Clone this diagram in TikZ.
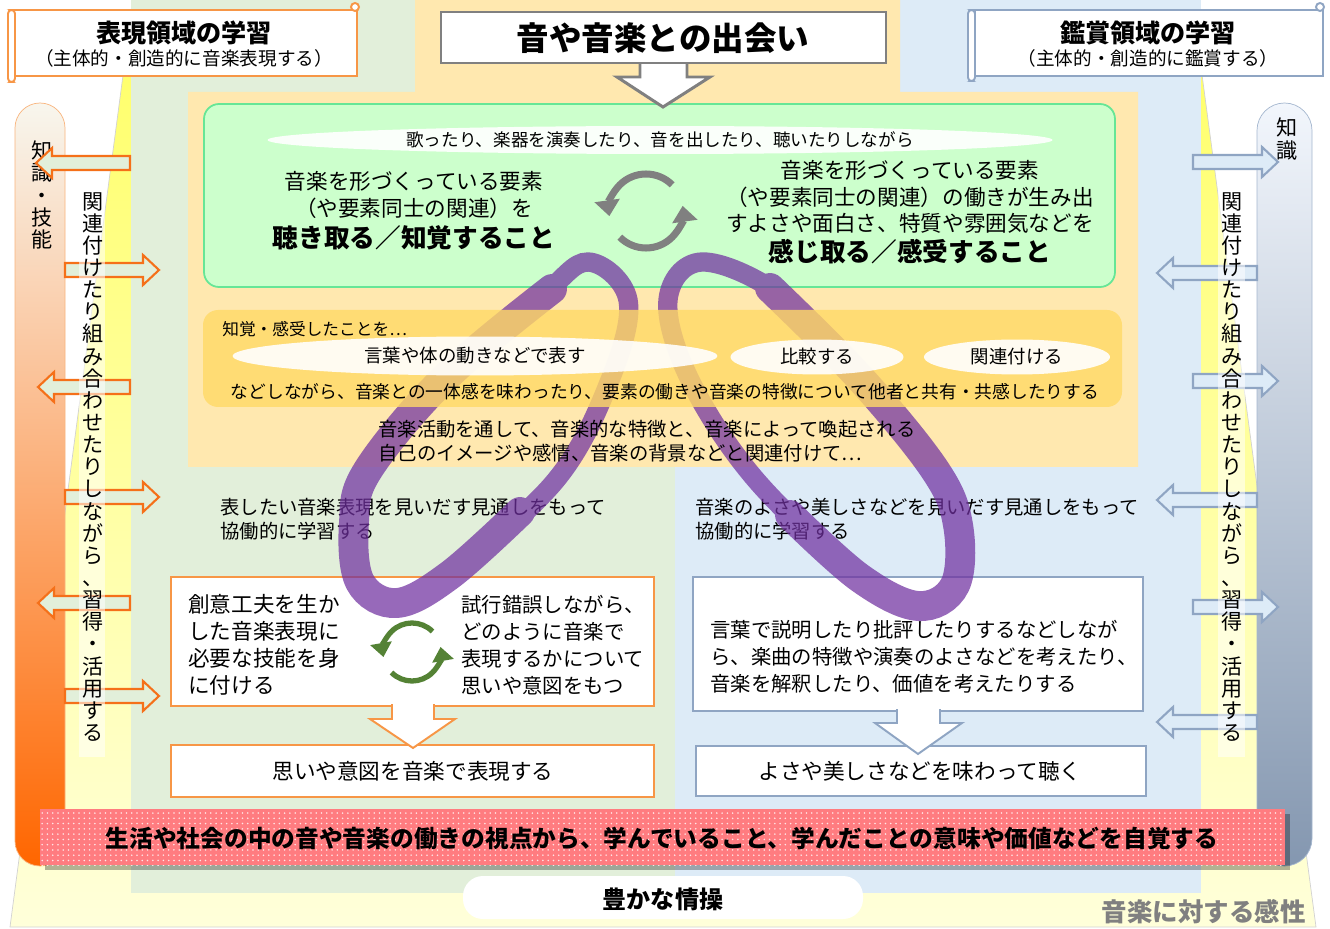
\documentclass[tikz,border=0pt]{standalone}
\usepackage{fontspec}
\setmainfont{Noto Sans CJK JP}
\usetikzlibrary{arrows.meta, shapes.geometric, patterns, calc}
\definecolor{brightyel}{RGB}{255,255,100}
\definecolor{midyel}{RGB}{255,255,200}
\definecolor{paleyel}{RGB}{255,255,218}
\definecolor{hyogen}{RGB}{226,239,218}
\definecolor{kansho}{RGB}{221,235,247}
\definecolor{deai}{RGB}{255,232,175}
\definecolor{chikaku}{RGB}{255,217,102}
\definecolor{kanju}{RGB}{204,255,204}
\definecolor{kanjuline}{RGB}{102,230,150}
\definecolor{orgline}{RGB}{247,150,70}
\definecolor{orgarr}{RGB}{245,112,25}
\definecolor{blueline}{RGB}{143,165,195}
\definecolor{ribpurple}{RGB}{112,48,160}
\definecolor{jikaku}{RGB}{255,124,128}
\definecolor{cycgreen}{RGB}{84,130,53}
\definecolor{barLtop}{RGB}{248,246,238}
\definecolor{barLmid}{RGB}{197,222,178}
\definecolor{barLbot}{RGB}{255,102,0}
\definecolor{barRtop}{RGB}{242,246,252}
\definecolor{barRmid}{RGB}{197,216,238}
\definecolor{barRbot}{RGB}{132,151,176}

% block arrow: style, tail x, tip x, y
\newcommand{\blockarr}[4]{%
  \pgfmathsetmacro{\hbase}{#3+((#2>#3)?16:-16)}%
  \draw[#1] (#2,#4-7) -- (\hbase,#4-7) -- (\hbase,#4-15) -- (#3,#4) -- (\hbase,#4+15) -- (\hbase,#4+7) -- (#2,#4+7) -- cycle;}

\begin{document}
\begin{tikzpicture}[x=0.02cm, y=-0.02cm,
    txt/.style={inner sep=0pt, font=\fontsize{11}{13.5}\selectfont},
    body/.style={inner sep=0pt, align=left, font=\fontsize{12.3}{15.3}\selectfont},
    bodys/.style={inner sep=0pt, align=left, font=\fontsize{11.6}{15.3}\selectfont},
    heavy/.style={inner sep=0pt, font=\fontsize{14.6}{16}\selectfont\bfseries},
    vcol/.style={inner sep=0pt, align=center, font=\fontsize{12}{12.6}\selectfont},
    hbox/.style={draw=orgline, fill=white, line width=1.1pt},
    kbox/.style={draw=blueline, fill=white, line width=1.1pt},
    larr/.style={draw=orgarr, fill=hyogen, line width=1.2pt},
    rarr/.style={draw=blueline, fill=kansho, line width=1.2pt},
    band/.style={draw=ribpurple, line width=11pt},
    wideband/.style={draw=ribpurple, line width=17pt, line cap=round},
    cyc/.style={line width=4pt, color=gray, -{Triangle[length=9pt,width=14pt]}},
    bub/.style={ellipse, fill=white, fill opacity=0.9, text opacity=1, inner sep=0pt,
        font=\fontsize{10.5}{12}\selectfont}
]
\useasboundingbox (0,0) rectangle (1330,929);
\fill[white] (0,0) rectangle (1330,929);

% field and domains
\shade[top color=brightyel, middle color=midyel, bottom color=paleyel]
    (133,0) -- (1192,0) -- (1316,927) -- (10,927) -- cycle;
\draw[gray!35] (133,0) -- (10,927) -- (1316,927) -- (1192,0);
\fill[hyogen] (131,0) rectangle (675,893);
\fill[kansho] (675,0) rectangle (1201,893);
\fill[deai] (415,0) -- (900,0) -- (900,92) -- (1138,92) -- (1138,467)
    -- (188,467) -- (188,92) -- (415,92) -- cycle;

% side bars
\shadedraw[top color=barLtop, middle color=barLmid, bottom color=barLbot,
    draw=orgline!70, rounded corners=0.5cm] (15,866) -- (15,103) -- (65,103) -- (65,866) -- cycle;
\shadedraw[top color=barRtop, middle color=barRmid, bottom color=barRbot,
    draw=blueline!80, rounded corners=0.55cm] (1257,866) -- (1257,103) -- (1312,103) -- (1312,866) -- cycle;
\node[vcol] (chigiL) at (42,195) {知\\識\\・\\技\\能};
\node[vcol] (chigiR) at (1287,139) {知\\識};

\blockarr{larr}{130}{36}{163}
\blockarr{larr}{65}{159}{270}
\blockarr{larr}{130}{38}{387}
\blockarr{larr}{65}{159}{497}
\blockarr{larr}{130}{38}{603}
\blockarr{larr}{65}{159}{696}
\blockarr{rarr}{1193}{1278}{162}
\blockarr{rarr}{1257}{1157}{273}
\blockarr{rarr}{1193}{1278}{381}
\blockarr{rarr}{1257}{1157}{500}
\blockarr{rarr}{1193}{1278}{607}
\blockarr{rarr}{1257}{1157}{722}

\fill[white, opacity=0.55] (79,187) rectangle (105,757);
\fill[white, opacity=0.55] (1218,187) rectangle (1245,757);
\node[vcol, anchor=north] (katsuyoL) at (93,192)
    {関\\連\\付\\け\\た\\り\\組\\み\\合\\わ\\せ\\た\\り\\し\\な\\が\\ら\\、\\習\\得\\・\\活\\用\\す\\る};
\node[vcol, anchor=north] (katsuyoR) at (1232,192)
    {関\\連\\付\\け\\た\\り\\組\\み\\合\\わ\\せ\\た\\り\\し\\な\\が\\ら\\、\\習\\得\\・\\活\\用\\す\\る};

% headers
\draw[hbox] (14,10) rectangle (357,76);
\draw[hbox, rounded corners=2pt] (8,10) rectangle (15,82);
\draw[hbox] (355,7) circle (4);
\node[heavy, font=\fontsize{14.3}{16}\selectfont\bfseries] (hyoT) at (184,33) {表現領域の学習};
\node[txt, font=\fontsize{10.6}{12}\selectfont] (hyoS) at (184,58) {（主体的・創造的に音楽表現する）};

\draw[kbox] (975,10) rectangle (1323,76);
\draw[kbox, rounded corners=2pt] (968,10) rectangle (975,81);
\draw[kbox] (1320,7) circle (4);
\node[heavy, font=\fontsize{14.3}{16}\selectfont\bfseries] (kanT) at (1148,33) {鑑賞領域の学習};
\node[txt, font=\fontsize{10.6}{12}\selectfont] (kanS) at (1148,58) {（主体的・創造的に鑑賞する）};

% perceive / feel
\draw[fill=kanju, draw=kanjuline, line width=1pt, rounded corners=0.3cm] (204,104) rectangle (1115,287);
\path[fill=white, draw=gray, line width=1.7pt] (640,61) -- (640,77) -- (617,77) -- (663,107)
    -- (710,77) -- (687,77) -- (687,61);
\draw[fill=white, draw=gray, line width=1.7pt] (441,12) rectangle (886,63);
\node[inner sep=0pt, font=\fontsize{18.5}{20}\selectfont\bfseries] (deaiT) at (663,38) {音や音楽との出会い};

\node[bub, minimum width=15.7cm, minimum height=0.56cm, font=\fontsize{10}{12}\selectfont]
    (sing) at (660,140) {歌ったり、楽器を演奏したり、音を出したり、聴いたりしながら};
\node[txt, align=center, font=\fontsize{12.3}{15.3}\selectfont] (yosoL) at (414,195)
    {音楽を形づくっている要素\\（や要素同士の関連）を};
\node[heavy] (kikitoru) at (414,238) {聴き取る／知覚すること};
\node[txt, align=center, font=\fontsize{12.3}{15}\selectfont] (yosoR) at (910,197)
    {音楽を形づくっている要素\\（や要素同士の関連）の働きが生み出\\すよさや面白さ、特質や雰囲気などを};
\node[heavy] (kanjitoru) at (910,252) {感じ取る／感受すること};
\coordinate (gcyc) at (646,211);
\draw[cyc] ([shift={(-45:37)}]gcyc) arc[start angle=-45, end angle=-188, radius=37];
\draw[cyc] ([shift={(-225:37)}]gcyc) arc[start angle=-225, end angle=-368, radius=37];

% expression side
\node[txt, align=left, anchor=west] (mitoshiL) at (220,519)
    {表したい音楽表現を見いだす見通しをもって\\協働的に学習する};
\draw[hbox] (171,577) rectangle (654,706);
\node[body, anchor=west] (ginou) at (188,645) {創意工夫を生か\\した音楽表現に\\必要な技能を身\\に付ける};
\node[bodys, anchor=west] (ito) at (461,645) {試行錯誤しながら、\\どのように音楽で\\表現するかについて\\思いや意図をもつ};
\coordinate (ccyc) at (412,652);
\draw[cyc, color=cycgreen, line width=3pt, -{Triangle[length=8pt,width=12pt]}]
    ([shift={(-45:29)}]ccyc) arc[start angle=-45, end angle=-190, radius=29];
\draw[cyc, color=cycgreen, line width=3pt, -{Triangle[length=8pt,width=12pt]}]
    ([shift={(-225:29)}]ccyc) arc[start angle=-225, end angle=-370, radius=29];
\draw[hbox] (171,745) rectangle (654,797);
\node[txt, font=\fontsize{12.3}{14}\selectfont] (hyogensuru) at (413,771) {思いや意図を音楽で表現する};
\path[fill=white, draw=orgline, line width=1.1pt] (392,704) -- (392,719) -- (370,719) -- (413,748)
    -- (455,719) -- (434,719) -- (434,704);

% appreciation side
\node[txt, align=left, anchor=west] (mitoshiR) at (695,519)
    {音楽のよさや美しさなどを見いだす見通しをもって\\協働的に学習する};
\draw[kbox] (693,577) rectangle (1143,711);
\node[bodys, anchor=west] (hihyo) at (710,657)
    {言葉で説明したり批評したりするなどしなが\\ら、楽曲の特徴や演奏のよさなどを考えたり、\\音楽を解釈したり、価値を考えたりする};
\draw[kbox] (696,746) rectangle (1146,796);
\node[txt, font=\fontsize{12.3}{14}\selectfont] (kiku) at (920,771) {よさや美しさなどを味わって聴く};
\path[fill=white, draw=blueline, line width=1.1pt] (897,709) -- (897,723) -- (875,723) -- (918,754)
    -- (962,723) -- (940,723) -- (940,709);

% ribbons
\begin{scope}[transparency group, opacity=0.72]
\draw[band] plot[smooth cycle, tension=0.6] coordinates {(588,262) (628,300) (610,380) (556,480)
    (450,575) (397,603) (360,582) (354,522) (368,470) (445,378) (540,298)};
\draw[wideband] plot[smooth, tension=0.6] coordinates {(552,289) (445,378) (368,470) (354,522)
    (360,582) (397,603) (450,575) (520,512)};
\draw[band] plot[smooth cycle, tension=0.6] coordinates {(702,262) (668,300) (690,380) (756,480)
    (860,578) (918,606) (955,585) (958,525) (935,470) (860,378) (782,296)};
\draw[wideband] plot[smooth, tension=0.6] coordinates {(770,288) (860,378) (935,470) (958,525)
    (955,585) (918,606) (860,578) (790,515)};
\end{scope}

% shared perception
\draw[fill=chikaku, fill opacity=0.8, draw=none, rounded corners=0.3cm] (203,310) rectangle (1122,407);
\node[txt, anchor=west, font=\fontsize{9.5}{11}\selectfont] (chikakuT) at (222,329) {知覚・感受したことを…};
\node[bub, minimum width=9.7cm, minimum height=0.78cm] (arawasu) at (475,356) {言葉や体の動きなどで表す};
\node[bub, minimum width=3.46cm, minimum height=0.7cm] (hikaku) at (817,357) {比較する};
\node[bub, minimum width=3.72cm, minimum height=0.7cm] (kanren) at (1017,357) {関連付ける};
\node[txt, font=\fontsize{10.1}{12}\selectfont] (kyokan) at (665,392)
    {などしながら、音楽との一体感を味わったり、要素の働きや音楽の特徴について他者と共有・共感したりする};
\node[txt, align=left, anchor=west] (kanki) at (378,441)
    {音楽活動を通して、音楽的な特徴と、音楽によって喚起される\\自己のイメージや感情、音楽の背景などと関連付けて…};

% awareness band
\fill[black, opacity=0.3] (45,814) rectangle (1290,870);
\fill[jikaku] (40,809) rectangle (1285,865);
\fill[pattern=dots, pattern color=white!80!jikaku] (40,809) rectangle (1285,865);
\node[inner sep=0pt, font=\fontsize{13.5}{15}\selectfont\bfseries] (jikakuT) at (662,838)
    {生活や社会の中の音や音楽の働きの視点から、学んでいること、学んだことの意味や価値などを自覚する};

\fill[white, rounded corners=0.4cm] (463,876) rectangle (863,919);
\node[inner sep=0pt, font=\fontsize{13.7}{15}\selectfont\bfseries] (josou) at (663,899) {豊かな情操};
\node[inner sep=0pt, anchor=east, text=gray, font=\fontsize{14.5}{16}\selectfont\bfseries] (kansei) at (1306,912) {音楽に対する感性};
\end{tikzpicture}
\end{document}
